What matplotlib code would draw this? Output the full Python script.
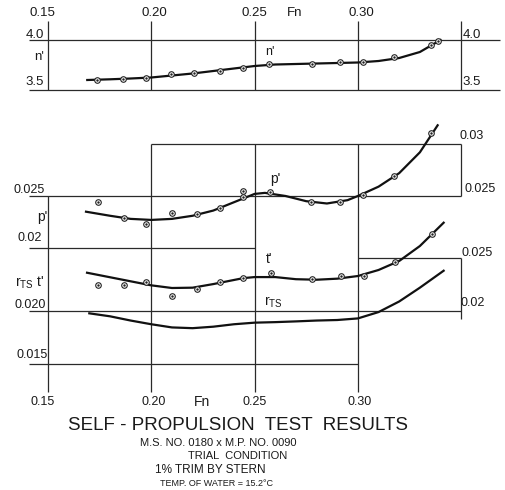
import numpy as np
import matplotlib.pyplot as plt

plt.rcParams['font.family'] = ['Liberation Sans', 'DejaVu Sans']
plt.rcParams['mathtext.default'] = 'regular'

# ---- data ----
# n' (upper panel)
n_fn = [0.1737, 0.1865, 0.1974, 0.2095, 0.2208, 0.2333, 0.2445, 0.2571,
        0.2776, 0.2913, 0.3026, 0.3176, 0.3354, 0.3389]
n_pts = [3.600, 3.613, 3.623, 3.657, 3.667, 3.693, 3.723, 3.760,
         3.760, 3.777, 3.780, 3.830, 3.950, 3.993]
n_line_fn = [0.169, 0.18, 0.19, 0.20, 0.21, 0.22, 0.23, 0.24, 0.25, 0.26,
             0.27, 0.28, 0.29, 0.30, 0.31, 0.32, 0.33, 0.34]
n_line = [3.600, 3.607, 3.615, 3.625, 3.645, 3.665, 3.690, 3.715, 3.740, 3.755,
          3.760, 3.765, 3.770, 3.775, 3.790, 3.820, 3.880, 4.000]

# p'
p_fn = [0.1740, 0.1869, 0.1976, 0.2099, 0.2220, 0.2334, 0.2445, 0.2445,
        0.2576, 0.2773, 0.2915, 0.3025, 0.3176, 0.3354]
p_pts = [0.02440, 0.02288, 0.02228, 0.02339, 0.02324, 0.02388, 0.02494, 0.02545,
         0.02535, 0.02445, 0.02440, 0.02513, 0.02692, 0.03103]
p_line_fn = [0.1684, 0.18, 0.19, 0.20, 0.21, 0.22, 0.23, 0.24, 0.25, 0.255,
             0.265, 0.275, 0.285, 0.295, 0.30, 0.31, 0.32, 0.33, 0.3386]
p_line = [0.02349, 0.02310, 0.02280, 0.02270, 0.02280, 0.02310, 0.02360, 0.02440,
          0.02520, 0.02530, 0.02500, 0.02450, 0.02428, 0.02460, 0.02500,
          0.02590, 0.02720, 0.02920, 0.03180]

# t'
t_fn = [0.1740, 0.1869, 0.1976, 0.2099, 0.2220, 0.2334, 0.2445, 0.2579,
        0.2778, 0.2918, 0.3031, 0.3179, 0.3357]
t_pts = [0.02245, 0.02245, 0.02270, 0.02144, 0.02210, 0.02270, 0.02314, 0.02355,
         0.02300, 0.02333, 0.02333, 0.02459, 0.02723]
t_line_fn = [0.1689, 0.1869, 0.20, 0.21, 0.22, 0.23, 0.2445, 0.25, 0.26, 0.27,
             0.28, 0.29, 0.30, 0.31, 0.32, 0.33, 0.3415]
t_line = [0.02361, 0.02292, 0.02242, 0.02217, 0.02220, 0.02254, 0.02310, 0.02320,
          0.02320, 0.02300, 0.02295, 0.02305, 0.02330, 0.02387, 0.02472,
          0.02613, 0.02833]

# r_TS (faired line only)
r_line_fn = [0.17, 0.18, 0.19, 0.20, 0.21, 0.22, 0.23, 0.24, 0.25, 0.26, 0.27,
             0.28, 0.29, 0.30, 0.31, 0.32, 0.33, 0.3415]
r_line = [0.01978, 0.01950, 0.01910, 0.01875, 0.01845, 0.01838, 0.01852, 0.01875,
          0.01890, 0.01895, 0.01902, 0.01910, 0.01915, 0.01930, 0.01990,
          0.02090, 0.02220, 0.02380]

fn_ticks = [0.15, 0.20, 0.25, 0.30]
fn_labels = ['0.15', '0.20', '0.25', '0.30']

W, H = 505, 490
fig = plt.figure(figsize=(W / 100, H / 100), dpi=100)
fig.patch.set_facecolor('white')


def mk_ax(ylo, yhi):
    ax = fig.add_axes([0, 0, 1, 1])
    ax.set_xlim(0.12677, 0.37120)
    ax.set_ylim(ylo, yhi)
    ax.axis('off')
    ax.patch.set_alpha(0)
    return ax


ax_n = mk_ax(-0.5, 4.4)
ax_p = mk_ax(-0.0032692, 0.043846)
ax_t = mk_ax(0.003113, 0.049340)

GC = '#2a2a2a'
LW = 0.9

# frame lines
ax_n.hlines([4.0, 3.5], 0.141, 0.369, color=GC, lw=LW)
ax_n.vlines(fn_ticks + [0.35], 3.5, 4.19, color=GC, lw=LW)

ax_p.hlines(0.025, 0.141, 0.35, color=GC, lw=LW)
ax_p.hlines(0.020, 0.141, 0.25, color=GC, lw=LW)
ax_p.hlines(0.030, 0.20, 0.35, color=GC, lw=LW)
ax_p.vlines(0.35, 0.025, 0.030, color=GC, lw=LW)
ax_p.vlines([0.20, 0.25, 0.30], 0.00615, 0.030, color=GC, lw=LW)
ax_p.vlines(0.15, 0.00615, 0.025, color=GC, lw=LW)

ax_t.hlines(0.020, 0.141, 0.35, color=GC, lw=LW)
ax_t.hlines(0.015, 0.141, 0.30, color=GC, lw=LW)
ax_t.hlines(0.025, 0.30, 0.35, color=GC, lw=LW)
ax_t.vlines(0.35, 0.0192, 0.025, color=GC, lw=LW)

# curves and test points
def pts(ax, x, y):
    ax.plot(x, y, 'o', ms=4.0, mfc='white', mec='#222222', mew=0.8, zorder=4)
    ax.plot(x, y, '.', ms=1.5, color='#222222', zorder=5)

ax_n.plot(n_line_fn, n_line, color='#111111', lw=1.6, zorder=3)
pts(ax_n, n_fn, n_pts)
ax_p.plot(p_line_fn, p_line, color='#111111', lw=1.6, zorder=3)
pts(ax_p, p_fn, p_pts)
ax_t.plot(t_line_fn, t_line, color='#111111', lw=1.6, zorder=3)
pts(ax_t, t_fn, t_pts)
ax_t.plot(r_line_fn, r_line, color='#111111', lw=1.6, zorder=3)


def txt(x, y, s, size=9, **kw):
    fig.text(x / W, 1 - y / H, s, fontsize=size, ha='center', va='center',
             color='#1a1a1a', **kw)

# Fn labels, top and bottom
for f, lab, xt, xb in zip(fn_ticks, fn_labels, [42, 154, 254, 361], [43, 154, 255, 360]):
    txt(xt, 13, lab, 9.5)
    txt(xb, 402, lab, 9)
txt(295, 13, 'Fn', 9.5)
txt(202, 402, 'Fn', 10)

# upper panel scale
txt(35, 35, '4.0', 9.5)
txt(39, 57, "n'", 9.5)
txt(35, 82, '3.5', 9.5)
txt(472, 35, '4.0', 9.5)
txt(472, 82, '3.5', 9.5)
txt(270, 52, "n'", 9)

# middle panel scales
txt(29, 190, '0.025', 9)
txt(42, 217, "p'", 10)
txt(30, 238, '0.02', 9)
txt(30, 283, "r$_{TS}$ t'", 10)
txt(30, 305, '0.020', 9)
txt(32, 355, '0.015', 9)
txt(472, 136, '0.03', 9)
txt(480, 189, '0.025', 9)
txt(477, 253, '0.025', 9)
txt(473, 303, '0.02', 9)
txt(275, 179, "p'", 10)
txt(269, 259, "t'", 10)
txt(273, 302, 'r$_{TS}$', 10)

# titles
txt(238, 425, 'SELF - PROPULSION  TEST  RESULTS', 13.5)
txt(218, 443, 'M.S. NO. 0180 x M.P. NO. 0090', 8)
txt(238, 456, 'TRIAL  CONDITION', 8)
txt(210, 470, '1% TRIM BY STERN', 8.5)
txt(216, 483, 'TEMP. OF WATER = 15.2°C', 6.5)

fig.savefig('out.png', dpi=100, facecolor='white')
